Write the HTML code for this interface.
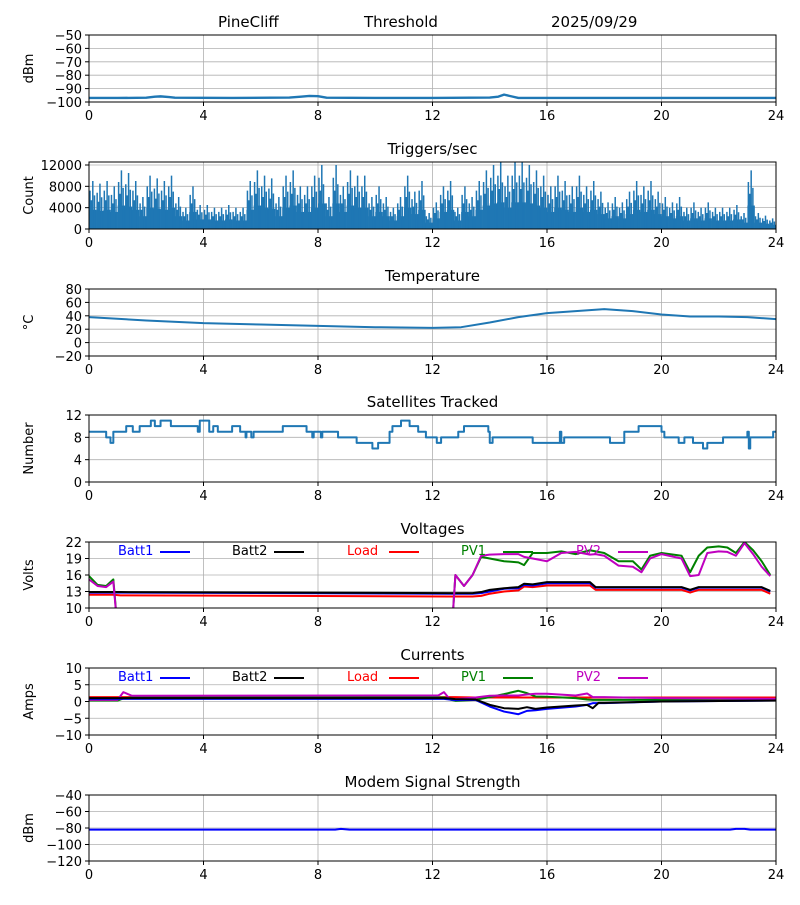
<!DOCTYPE html>
<html><head><meta charset="utf-8"><style>
html,body{margin:0;padding:0;background:#fff}
svg text{font-family:"DejaVu Sans","Liberation Sans",sans-serif}
</style></head><body>
<svg id="c" width="800" height="900" xmlns="http://www.w3.org/2000/svg">
<rect width="800" height="900" fill="#fff"/>
<text x="218" y="27" font-size="15">PineCliff</text>
<text x="364" y="27" font-size="15">Threshold</text>
<text x="551" y="27" font-size="15">2025/09/29</text>
</svg>
<script>
const xTicks=[0,4,8,12,16,20,24];
const thrT=[0,1,2,2.3,2.5,2.8,3,5,7,7.4,7.7,8,8.3,10,12,14,14.3,14.5,14.8,15,18,20,24];
const thrV=[-97,-97,-96.8,-96,-95.8,-96.3,-96.8,-97,-96.7,-96,-95.5,-95.7,-96.8,-97,-97,-96.7,-96,-94.5,-96,-97,-97,-97,-97];
const trigPeaks=[9,8.5,9,8, 11,10.5,9,6, 10,9.5,9,10, 6,4,8,4.5, 4.5,4,4,4.5, 4,4,9,11, 10,9.5,6,10, 11,8,8,10, 12,6,12,8, 11,10,10,6, 8,6,4,6, 10,7,9,3, 5,8,9,4, 8,6,9,11, 12,12.5,10,12.5, 12.5,12,11,10, 8,10,9,8, 10,8,9,7, 5,6,5,7, 9,8,9,7, 6,5,6,4, 5,4,5,4, 4,4,4.5,3, 11,3,2.5,2];
const tempT=[0,2,4,6,8,10,12,13,14,15,16,17,18,19,20,21,22,23,24];
const tempV=[38,33,29,27,25,23,22,23,30,38,44,47,50,47,42,39,39,38,35];
const satT=[0,0.6,0.75,0.85,1.3,1.53,1.77,2.16,2.3,2.5,2.86,3.8,3.87,4.2,4.34,4.5,5,5.28,5.47,5.5,5.67,5.75,6.77,7.6,7.8,7.85,8.1,8.15,8.7,9.35,9.9,10.1,10.5,10.6,10.9,11.2,11.5,11.77,12.15,12.3,12.9,13.1,13.95,14.0,14.1,15.05,15.5,16.45,16.5,16.6,17.5,18.2,18.7,19.2,20,20.1,20.6,20.8,21.1,21.45,21.6,22.15,23,23.05,23.1,23.9];
const satV=[9,8,7,9,10,9,10,11,10,11,10,9,11,9,10,9,10,9,8,9,8,9,10,9,8,9,8,9,8,7,6,7,9,10,11,10,9,8,7,8,9,10,9,7,8,8,7,9,7,8,8,7,9,10,9,8,7,8,7,6,7,8,9,6,8,9];
const vT=[0,0.3,0.6,0.85,1.1,12.6,12.8,13.1,13.4,13.7,14,14.5,15,15.2,15.5,16,16.5,17,17.5,17.7,18,18.5,19,19.3,19.6,20,20.7,21,21.3,21.6,22,22.3,22.6,22.9,23.2,23.5,23.8];
const batt1V=[12.8,12.8,12.8,12.8,12.8,12.6,12.6,12.6,12.6,12.7,13,13.5,13.6,14.2,14.1,14.5,14.5,14.5,14.5,13.7,13.7,13.7,13.7,13.7,13.7,13.7,13.7,13.2,13.7,13.7,13.7,13.7,13.7,13.7,13.7,13.7,13];
const batt2V=[12.9,12.9,12.9,12.9,12.9,12.7,12.7,12.7,12.7,12.9,13.3,13.6,13.8,14.4,14.3,14.7,14.7,14.7,14.7,13.8,13.8,13.8,13.8,13.8,13.8,13.8,13.8,13.3,13.8,13.8,13.8,13.8,13.8,13.8,13.8,13.8,13.1];
const loadV=[12.4,12.4,12.4,12.4,12.3,12.1,12.1,12.1,12.1,12.2,12.6,13,13.2,13.9,13.8,14.1,14.1,14.1,14.1,13.3,13.3,13.3,13.3,13.3,13.3,13.3,13.3,12.8,13.3,13.3,13.3,13.3,13.3,13.3,13.3,13.3,12.6];
const pv1V=[15.8,14.2,14,15.2,0,0,16,14,16,19.3,19,18.5,18.3,17.8,20,20,20.3,19.8,20.5,20.3,20,18.5,18.5,17,19.5,20,19.5,16.5,19.5,21,21.2,21,20,22,20.5,18.5,16];
const pv2V=[15.2,14,13.8,14.8,0,0,16,14,16,19.5,19.7,19.8,19.8,19.3,19,18.5,20,20.2,19.7,19.8,19.5,17.7,17.5,16.5,19,19.8,19,15.8,16,20,20.3,20.2,19.5,21.8,19.8,17.5,15.8];
const cT=[0,1,1.2,1.5,12.2,12.4,12.6,12.8,13.5,14,14.5,15,15.3,15.6,16,17,17.4,17.6,17.8,18,20,24];
const cBatt1=[0.8,0.8,0.8,0.8,0.8,0.8,0.6,0.4,0.5,-1.5,-3,-3.8,-2.8,-2.6,-2.2,-1.5,-1,-0.5,-0.5,-0.5,0,0.3];
const cBatt2=[1,1,1,1,1,1,0.9,0.7,0.6,-1,-2,-2.2,-1.7,-2.2,-1.8,-1.2,-1,-2,-0.4,-0.4,0,0.3];
const cLoad=[1.3,1.3,1.3,1.3,1.3,1.3,1.3,1.3,1.2,1.2,1.2,1.2,1.2,1.2,1.2,1.2,1.2,1.2,1.2,1.2,1.2,1.2];
const cPv1=[0.3,0.3,0.9,1.2,1.2,1.2,0.6,0.2,0.5,1.3,2.2,3.2,2.5,1.5,1.4,1,0.6,0.5,0.5,0.5,0.5,0.5];
const cPv2=[0.5,0.5,2.8,1.7,1.8,2.8,0.7,0.7,1.2,1.7,1.8,1.8,2.1,2.3,2.3,1.8,2.4,1.3,1.3,1.3,1,0.8];
const modT=[0,8.6,8.8,9.1,22.4,22.6,22.9,23.1,24];
const modV=[-82,-82,-81,-82,-82,-81,-81,-82,-82];

const svg=document.getElementById('c');
const NS='http://www.w3.org/2000/svg';
function mk(tag,a,parent){const e=document.createElementNS(NS,tag);for(const k in a)e.setAttribute(k,a[k]);(parent||svg).appendChild(e);return e;}
function fmt(v){return String(v).replace('-','\u2212');}
const X0=89,X1=776;
function sx(t){return X0+t/24*(X1-X0);}
const panels=[
 {id:'signal',top:35,bot:102,min:-100,max:-50,ticks:[-100,-90,-80,-70,-60,-50],yl:'dBm',title:''},
 {id:'triggers',top:162,bot:229,min:0,max:12560,ticks:[0,4000,8000,12000],yl:'Count',title:'Triggers/sec'},
 {id:'temperature',top:289,bot:356,min:-20,max:80,ticks:[-20,0,20,40,60,80],yl:'°C',title:'Temperature'},
 {id:'satellites',top:415,bot:482,min:0,max:12,ticks:[0,4,8,12],yl:'Number',title:'Satellites Tracked'},
 {id:'voltages',top:542,bot:608,min:10,max:22,ticks:[10,13,16,19,22],yl:'Volts',title:'Voltages'},
 {id:'currents',top:668,bot:735,min:-10,max:10,ticks:[-10,-5,0,5,10],yl:'Amps',title:'Currents'},
 {id:'modem',top:795,bot:861,min:-120,max:-40,ticks:[-120,-100,-80,-60,-40],yl:'dBm',title:'Modem Signal Strength'}];
function syf(p){return v=>p.bot-(v-p.min)/(p.max-p.min)*(p.bot-p.top);}
panels.forEach(p=>{
 const g=mk('g',{});
 
 
 const sy=syf(p);p.sy=sy;p.g=g;
 xTicks.forEach(t=>{const l=mk('line',{x1:sx(t),x2:sx(t),y1:p.top,y2:p.bot,stroke:'#b0b0b0','stroke-width':0.8},g);
  
  mk('line',{x1:sx(t),x2:sx(t),y1:p.bot,y2:p.bot+4,stroke:'#000'},g);
  const tx=mk('text',{x:sx(t),y:p.bot+18,'font-size':13,'text-anchor':'middle'},g);tx.textContent=t;
  });
 p.ticks.forEach(v=>{const l=mk('line',{x1:X0,x2:X1,y1:sy(v),y2:sy(v),stroke:'#b0b0b0','stroke-width':0.8},g);
  
  mk('line',{x1:X0-4,x2:X0,y1:sy(v),y2:sy(v),stroke:'#000'},g);
  const tx=mk('text',{x:X0-7,y:sy(v)+5,'font-size':13,'text-anchor':'end'},g);tx.textContent=fmt(v);
  });
 const cp=mk('clipPath',{id:'clip-'+p.id},g);mk('rect',{x:X0,y:p.top,width:X1-X0,height:p.bot-p.top},cp);
 p.plot=mk('g',{'clip-path':'url(#clip-'+p.id+')'},g);
 
 const yl=mk('text',{x:0,y:0,'font-size':13,'text-anchor':'middle',transform:`translate(33,${(p.top+p.bot)/2}) rotate(-90)`},g);yl.textContent=p.yl;
 
 if(p.title){const tt=mk('text',{x:(X0+X1)/2,y:p.top-8,'font-size':15,'text-anchor':'middle'},g);tt.textContent=p.title;
  }
});
function line(p,T,V,color,name,w,step){
 let d='';T.forEach((t,i)=>{const x=sx(t),y=p.sy(V[i]);
  if(i===0)d+=`M${x},${y}`;else if(step)d+=`H${x}V${y}`;else d+=`L${x},${y}`;});
 if(step)d+=`H${sx(24)}`;
 const e=mk('path',{d:d,fill:'none',stroke:color,'stroke-width':w||1.8,'stroke-linejoin':'round'},p.plot);
 
}
const B='#1f77b4';
line(panels[0],thrT,thrV,B,'threshold-line',2.4);
(function(){const p=panels[1];const n=trigPeaks.length;const w=(X1-X0)/n;
 trigPeaks.forEach((pk,i)=>{const x=X0+i*w;const v=pk*1000;
  const r=mk('rect',{x:x,y:p.sy(v*0.4),width:w+0.3,height:p.sy(0)-p.sy(v*0.4),fill:B},p.plot);
  
  const sp=mk('path',{d:`M${x+1},${p.sy(0)}V${p.sy(v*0.8)}M${x+2.5},${p.sy(0)}V${p.sy(v*0.6)}M${x+3.8},${p.sy(0)}V${p.sy(v)}M${x+5.5},${p.sy(0)}V${p.sy(v*0.7)}`,stroke:B,'stroke-width':1.5},p.plot);
  });
})();
line(panels[2],tempT,tempV,B,'temperature-line',2);
line(panels[3],satT,satV,B,'satellites-line',2,true);
const vp=panels[4],cpn=panels[5];
line(vp,vT,loadV,'#ff0000','load-voltage-line',2);
line(vp,vT,batt1V,'#0000ff','batt1-voltage-line',2);
line(vp,vT,batt2V,'#000000','batt2-voltage-line',2);
line(vp,vT,pv1V,'#008000','pv1-voltage-line',2);
line(vp,vT,pv2V,'#bf00bf','pv2-voltage-line',2);
line(cpn,cT,cLoad,'#ff0000','load-current-line',2);
line(cpn,cT,cPv1,'#008000','pv1-current-line',2);
line(cpn,cT,cPv2,'#bf00bf','pv2-current-line',2);
line(cpn,cT,cBatt1,'#0000ff','batt1-current-line',2);
line(cpn,cT,cBatt2,'#000000','batt2-current-line',2);
line(panels[6],modT,modV,'#0000ff','modem-line',2);
const legNames=['Batt1','Batt2','Load','PV1','PV2'];
const legCols=['#0000ff','#000000','#ff0000','#008000','#bf00bf'];
const legX=[118,232,347,461,576];
[vp,cpn].forEach(p=>{legNames.forEach((n,i)=>{
 const g=mk('g',{},p.g);
 
 const t=mk('text',{x:legX[i],y:p.top+13,'font-size':13,fill:legCols[i]},g);t.textContent=n;
 mk('line',{x1:legX[i]+42,x2:legX[i]+72,y1:p.top+10,y2:p.top+10,stroke:legCols[i],'stroke-width':2},g);});});
panels.forEach(p=>{const r=mk('rect',{x:X0,y:p.top,width:X1-X0,height:p.bot-p.top,fill:'none',stroke:'#000','stroke-width':1},p.g);
 });
</script>
</body></html>
